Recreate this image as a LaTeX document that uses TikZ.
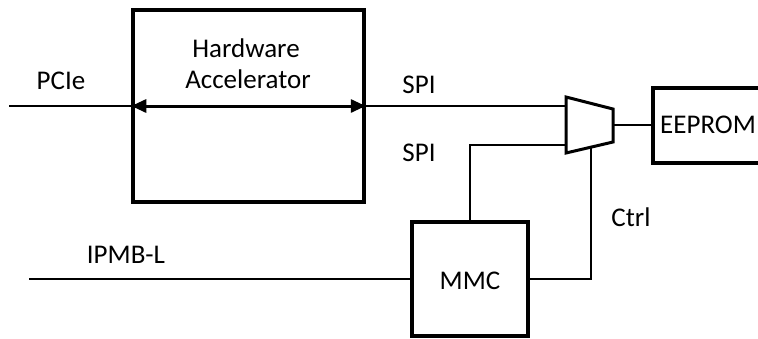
\documentclass[tikz,border=0pt]{standalone}
\usepackage{fontspec}
\setmainfont{Carlito}
\usetikzlibrary{arrows.meta}
\begin{document}
\begin{tikzpicture}[x=1pt,y=-1pt,
  box/.style={draw,line width=3.5pt,inner sep=0pt,fill=white},
  wire/.style={line width=1.6pt},
  thinwire/.style={line width=1.2pt},
  lbl/.style={inner sep=0pt,anchor=base,font=\fontsize{27}{31}\selectfont}]
\useasboundingbox (0,0) rectangle (758,338);
\clip (0,0) rectangle (758,338);
% boxes
\node[box,minimum width=231pt,minimum height=192pt] (hw) at (248.5,106) {};
\node[box,minimum width=116pt,minimum height=114pt] (mmc) at (470,279) {};
\node[box,minimum width=124pt,minimum height=75pt] (eeprom) at (715,125.5) {};
% mux
\coordinate (m1) at (566,97);
\coordinate (m2) at (613,109);
\coordinate (m3) at (613,142);
\coordinate (m4) at (566,153);
\draw[line width=3pt,line join=miter] (m1) -- (m2) -- (m3) -- (m4) -- cycle;
\coordinate (muxA) at (566,106);
\coordinate (muxB) at (566,145);
\coordinate (muxO) at (613,125);
\coordinate (muxC) at (591,147.2);
% free ends
\coordinate (pcieEnd) at (9,106);
\coordinate (ipmbEnd) at (29,279);
% connectors
\draw[thinwire] (pcieEnd) -- (hw.west);
\draw[line width=3pt,{Triangle[length=15pt,width=13pt]}-{Triangle[length=15pt,width=13pt]}] (hw.west) -- (hw.east);
\draw[thinwire] (hw.east) -- (muxA);
\draw[wire] (muxO) -- (eeprom.west |- muxO);
\draw[wire] (muxB) -| (mmc.north);
\draw[wire] (muxC) |- (mmc.east);
\draw[thinwire] (ipmbEnd) -- (mmc.west);
% labels
\node[lbl] (hwl1) at (246,57) {Hardware};
\node[lbl] (hwl2) at (248,88) {Accelerator};
\node[lbl] (pcie) at (61,89) {PCIe};
\node[lbl] (spi1) at (419,93) {SPI};
\node[lbl] (spi2) at (419,161) {SPI};
\node[lbl,anchor=base west] (eel) at (660,133) {EEPROM};
\node[lbl] (ctrl) at (631,226) {Ctrl};
\node[lbl] (ipmb) at (126,263) {IPMB-L};
\node[lbl] (mmcl) at (470,289) {MMC};
\end{tikzpicture}
\end{document}
